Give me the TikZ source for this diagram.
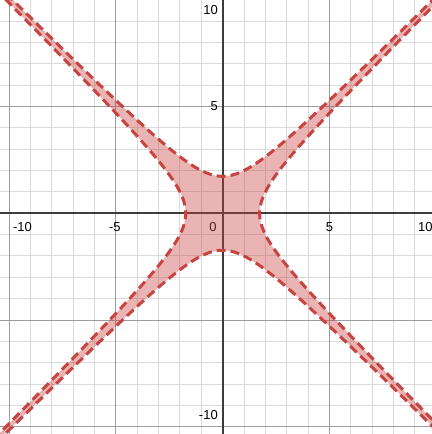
\documentclass[tikz,border=0pt]{standalone}
\usepackage{fontspec}
\setmainfont{Liberation Sans}
\definecolor{curvered}{HTML}{C74440}
\definecolor{gridminor}{HTML}{DADADA}
\definecolor{gridmajor}{HTML}{9C9C9C}
\definecolor{axisgray}{HTML}{3C3C3C}
\tikzset{
	minorline/.style={draw=gridminor, line width=1pt}
}
\tikzset{
	majorline/.style={draw=gridmajor, line width=1pt}
}
\tikzset{
	axisline/.style={draw=axisgray, line width=2pt}
}
\tikzset{
	ticktext/.style={font=\fontsize{13}{15}\selectfont, text=black, inner sep=0pt}
}
\tikzset{
	curveline/.style={draw=curvered, line width=3pt, dash pattern=on 9pt off 5pt}
}

\begin{document}
\begin{tikzpicture}[x=21.35pt, y=21.35pt]
      \useasboundingbox (-10.43,-10.34) rectangle (9.80,9.99);
      \clip (-10.43,-10.34) rectangle (9.80,9.99);

      % minor grid, one unit apart
      \foreach \k in {-11,...,11} {
        \draw[minorline] (\k,-11) -- (\k,11);
        \draw[minorline] (-11,\k) -- (11,\k);
      }
      % major grid, every five units
      \foreach \k in {-10,-5,5,10} {
        \draw[majorline] (\k,-11) -- (\k,11);
        \draw[majorline] (-11,\k) -- (11,\k);
      }

      % axes
      \draw[axisline] (-11,0) -- (11,0);
      \draw[axisline] (0,-11) -- (0,11);

      % tick labels on the x-axis
      \node[ticktext] (xm10) at (-9.38,-0.63) {-10};
      \node[ticktext] (xm5) at (-5.05,-0.63) {-5};
      \node[ticktext] (xzero) at (-0.45,-0.63) {0};
      \node[ticktext] (xp5) at (5.0,-0.63) {5};
      \node[ticktext, anchor=west] (xp10) at (9.15,-0.63) {10};
      % tick labels on the y-axis
      \node[ticktext, anchor=east] (yp10) at (-0.22,9.52) {10};
      \node[ticktext, anchor=east] (yp5) at (-0.22,5.0) {5};
      \node[ticktext, anchor=east] (ym10) at (-0.22,-9.45) {-10};

      % shaded region |x^2 - y^2| <= 3
      \fill[curvered, fill opacity=0.4]
        plot[domain=-12:12, samples=160, variable=\t] ({sqrt(\t*\t+3)},\t)
        -- plot[domain=12:-12, samples=160, variable=\t] (\t,{sqrt(\t*\t+3)})
        -- plot[domain=12:-12, samples=160, variable=\t] ({-sqrt(\t*\t+3)},\t)
        -- plot[domain=-12:12, samples=160, variable=\t] (\t,{-sqrt(\t*\t+3)})
        -- cycle;

      % dashed hyperbola branches
      \foreach \s in {1,-1} {
        \draw[curveline] plot[domain=-12:12, samples=160, variable=\t] ({\s*sqrt(\t*\t+3)},\t);
        \draw[curveline] plot[domain=-12:12, samples=160, variable=\t] (\t,{\s*sqrt(\t*\t+3)});
      }
    \end{tikzpicture}
\end{document}
